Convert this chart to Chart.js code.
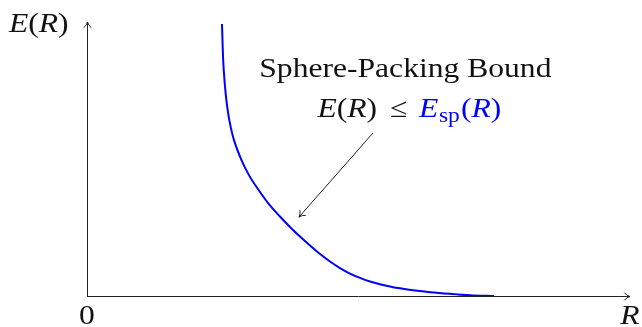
<!DOCTYPE html>
<html>
<head>
<meta charset="utf-8">
<script src="https://cdn.jsdelivr.net/npm/chart.js@4.4.0/dist/chart.umd.min.js"></script>
<style>
    html, body { margin: 0; padding: 0; background: #fff; }
    #wrap { width: 642px; height: 327px; }
</style>
</head>
<body>
<div id="wrap"><canvas id="chart" width="642" height="327"></canvas></div>
<script>
// curve, axes normalised to 0..1
const rateValues = [0.2486, 0.2508, 0.2532, 0.2567, 0.2621, 0.2707, 0.2845, 0.2980, 0.3094, 0.3339,
    0.3554, 0.3738, 0.3923, 0.4107, 0.4291, 0.4475, 0.4659, 0.4843, 0.5028, 0.5212,
    0.5396, 0.5580, 0.5764, 0.6041, 0.6317, 0.6685, 0.7053, 0.7495];
const exponentValues = [0.993, 0.861, 0.788, 0.715, 0.642, 0.569, 0.496, 0.442, 0.406, 0.338,
    0.290, 0.252, 0.217, 0.184, 0.153, 0.126, 0.102, 0.082, 0.066, 0.053,
    0.043, 0.035, 0.028, 0.020, 0.014, 0.008, 0.003, 0.0];

const xAxisLabel = 'R';
const yAxisLabel = ['E', '(', 'R', ')'];
const originLabel = '0';
const boundTitle = 'Sphere-Packing Bound';
// where the note sits and where its arrow points (data units)
const notePos = { x: 0.59, line1: 0.799, line2: 0.653 };
const arrowFrom = { x: 0.5267, y: 0.595 };
const arrowTo = { x: 0.3904, y: 0.288 };

const FONT = '"Liberation Serif", "Times New Roman", serif';
const STRETCH = 1.17;   // computer modern is wider than times
const BLUE = '#0000ff';
const INK = '#222';
const TEXT = '#111';

function fontStr(size, italic) {
    return `${italic ? 'italic ' : ''}${size}px ${FONT}`;
}

function drawRuns(ctx, runs, x, baseline, align) {
    let total = 0;
    runs.forEach(r => {
        ctx.font = fontStr(r.size, r.italic);
        r.w = ctx.measureText(r.t).width + (r.gap || 0);
        total += r.w;
    });
    const start = align === 'center' ? x - total * STRETCH / 2 : x;
    ctx.save();
    ctx.translate(start, baseline);
    ctx.scale(STRETCH, 1);
    ctx.textAlign = 'left';
    ctx.textBaseline = 'alphabetic';
    let cx = 0;
    runs.forEach(r => {
        ctx.font = fontStr(r.size, r.italic);
        ctx.fillStyle = r.color || TEXT;
        ctx.fillText(r.t, cx, r.dy || 0);
        cx += r.w;
    });
    ctx.restore();
}

function arrowHead(ctx, x, y, angle, len) {
    // tikz "to" style, two short curved strokes
    ctx.beginPath();
    [-1, 1].forEach(s => {
        const a = angle + Math.PI - s * 0.6;
        const ex = x + Math.cos(a) * len;
        const ey = y + Math.sin(a) * len;
        const mx = x + Math.cos(angle + Math.PI - s * 0.25) * len * 0.55;
        const my = y + Math.sin(angle + Math.PI - s * 0.25) * len * 0.55;
        ctx.moveTo(x, y);
        ctx.quadraticCurveTo(mx, my, ex, ey);
    });
    ctx.stroke();
}

const axesPlugin = {
    id: 'axesPlugin',
    beforeDatasetsDraw(chart) {
        const { ctx, chartArea: a } = chart;
        ctx.save();
        ctx.strokeStyle = INK;
        ctx.lineWidth = 1;
        ctx.beginPath();
        ctx.moveTo(a.left + 0.5, a.bottom);
        ctx.lineTo(a.left + 0.5, a.top);
        ctx.moveTo(a.left, a.bottom + 0.5);
        ctx.lineTo(a.right, a.bottom + 0.5);
        ctx.stroke();
        arrowHead(ctx, a.left + 0.5, a.top, -Math.PI / 2, 7);
        arrowHead(ctx, a.right, a.bottom + 0.5, 0, 7);
        ctx.restore();
    },
    afterDraw(chart) {
        const { ctx, chartArea: a, scales } = chart;
        const size = 27;
        ctx.save();

        drawRuns(ctx, [
            { t: yAxisLabel[0], size, italic: true },
            { t: yAxisLabel[1], size },
            { t: yAxisLabel[2], size, italic: true },
            { t: yAxisLabel[3], size }
        ], 9, a.top + 10, 'left');
        drawRuns(ctx, [{ t: originLabel, size }], a.left, 324, 'center');
        drawRuns(ctx, [{ t: xAxisLabel, size, italic: true }], a.right, 324, 'center');

        const nx = scales.x.getPixelForValue(notePos.x);
        drawRuns(ctx, [{ t: boundTitle, size }], nx - 2, scales.y.getPixelForValue(notePos.line1), 'center');
        drawRuns(ctx, [
            { t: 'E', size, italic: true },
            { t: '(', size },
            { t: 'R', size, italic: true },
            { t: ')', size, gap: 11 },
            { t: '\u2264', size, gap: 10 },
            { t: 'E', size, italic: true, color: BLUE, gap: 0.5 },
            { t: 'sp', size: 20, dy: 5, color: BLUE, gap: 1 },
            { t: '(', size, color: BLUE },
            { t: 'R', size, italic: true, color: BLUE },
            { t: ')', size, color: BLUE }
        ], nx + 2, scales.y.getPixelForValue(notePos.line2), 'center');

        const x1 = scales.x.getPixelForValue(arrowFrom.x);
        const y1 = scales.y.getPixelForValue(arrowFrom.y);
        const x2 = scales.x.getPixelForValue(arrowTo.x);
        const y2 = scales.y.getPixelForValue(arrowTo.y);
        ctx.strokeStyle = INK;
        ctx.lineWidth = 1;
        ctx.beginPath();
        ctx.moveTo(x1, y1);
        ctx.lineTo(x2, y2);
        ctx.stroke();
        arrowHead(ctx, x2, y2, Math.atan2(y2 - y1, x2 - x1), 7);
        ctx.restore();
    }
};

new Chart(document.getElementById('chart'), {
    type: 'line',
    data: {
        datasets: [{
            data: rateValues.map((r, i) => ({ x: r, y: exponentValues[i] })),
            borderColor: BLUE,
            borderWidth: 2,
            pointRadius: 0,
            tension: 0.3,
            fill: false
        }]
    },
    options: {
        responsive: false,
        animation: false,
        devicePixelRatio: 1,
        layout: { padding: { left: 87, right: 12, top: 22, bottom: 31 } },
        plugins: { legend: { display: false }, tooltip: { enabled: false } },
        scales: {
            x: { type: 'linear', min: 0, max: 1, display: false },
            y: { type: 'linear', min: 0, max: 1, display: false }
        }
    },
    plugins: [axesPlugin]
});
</script>
</body>
</html>
